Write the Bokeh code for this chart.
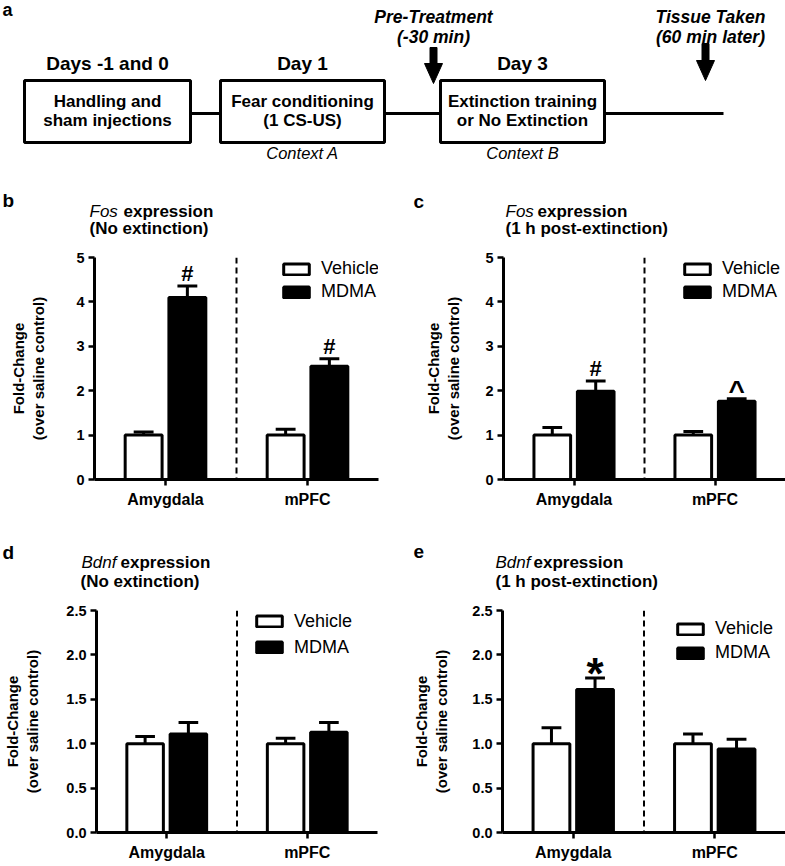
from bokeh.plotting import figure
from bokeh.models import (Range1d, FactorRange, ColumnDataSource, Legend, LegendItem, Span,
                          FixedTicker, NumeralTickFormatter, CDSView, IndexFilter)
from bokeh.transform import dodge
from bokeh.layouts import column, row
from bokeh.embed import file_html
from bokeh.resources import INLINE
from bokeh.core.properties import value

# ---------------- data ----------------
stage_days = ["Days -1 and 0", "Day 1", "Day 3"]
stage_line1 = ["Handling and", "Fear conditioning", "Extinction training"]
stage_line2 = ["sham injections", "(1 CS-US)", "or No Extinction"]
stage_context = ["", "Context A", "Context B"]
event_line1 = ["Pre-Treatment", "Tissue Taken"]
event_line2 = ["(-30 min)", "(60 min later)"]

regions = ["Amygdala", "mPFC"]
groups = ["Vehicle", "MDMA"]

panel_letters = ["b", "c", "d", "e"]
panel_genes = ["Fos", "Fos", "Bdnf", "Bdnf"]
panel_conditions = ["(No extinction)", "(1 h post-extinction)", "(No extinction)", "(1 h post-extinction)"]

fos_noext_vehicle = [1.00, 1.00]
fos_noext_vehicle_sem = [0.07, 0.13]
fos_noext_mdma = [4.10, 2.55]
fos_noext_mdma_sem = [0.26, 0.17]
fos_noext_marks = ["#", "#"]

fos_postext_vehicle = [1.00, 1.00]
fos_postext_vehicle_sem = [0.17, 0.08]
fos_postext_mdma = [1.99, 1.76]
fos_postext_mdma_sem = [0.23, 0.06]
fos_postext_marks = ["#", "^"]

bdnf_noext_vehicle = [1.00, 1.00]
bdnf_noext_vehicle_sem = [0.08, 0.06]
bdnf_noext_mdma = [1.11, 1.13]
bdnf_noext_mdma_sem = [0.13, 0.11]
bdnf_noext_marks = ["", ""]

bdnf_postext_vehicle = [1.00, 1.00]
bdnf_postext_vehicle_sem = [0.18, 0.11]
bdnf_postext_mdma = [1.61, 0.94]
bdnf_postext_mdma_sem = [0.13, 0.11]
bdnf_postext_marks = ["*", ""]

fos_ticks = [0, 1, 2, 3, 4, 5]
bdnf_ticks = [0.0, 0.5, 1.0, 1.5, 2.0, 2.5]

y_title = "Fold-Change\n(over saline control)"

FONT = "Liberation Sans"
W = 785


def fs(v):
    return f"{v:.1f}px"


def mid(baseline, size):
    """Vertical centre of the em box for a text whose baseline is at `baseline` (y down)."""
    return baseline - 0.35 * size


def strip(height, y0):
    """Axis-free figure whose data units are page pixels (y downwards)."""
    f = figure(width=W, height=height, x_range=Range1d(0, W), y_range=Range1d(y0 + height, y0),
               output_backend="svg", toolbar_location=None, title=None, min_border=0,
               x_axis_type=None, y_axis_type=None)
    f.outline_line_color = None
    return f


def put(f, x, baseline, text, size, style, align="left"):
    f.text(x=[x], y=[mid(baseline, size)], text=[text], text_font=value(FONT),
           text_font_size=value(fs(size)), text_font_style=style, text_align=align,
           text_baseline="middle", text_color="black")


def panel_heading(f, idx, letter_xy, gene_xy, expr_x, sub_xy):
    put(f, letter_xy[0], letter_xy[1], panel_letters[idx], 19, "bold")
    put(f, gene_xy[0], gene_xy[1], panel_genes[idx], 17, "italic")
    put(f, expr_x, gene_xy[1], "expression", 17, "bold")
    put(f, sub_xy[0], sub_xy[1], panel_conditions[idx], 17, "bold")


# ---------------- panel a: timeline (+ headings of b and c) ----------------
top = strip(245, 0)

box_l = [24, 220, 440]
box_r = [190, 384, 604]
box_c = [(a + b) / 2 for a, b in zip(box_l, box_r)]
LINE_Y = 113
top.segment(x0=[box_r[0], box_r[1], box_r[2]], y0=[LINE_Y] * 3,
            x1=[box_l[1], box_l[2], 723], y1=[LINE_Y] * 3,
            line_color="black", line_width=3)
top.quad(left=box_l, right=box_r, top=[80] * 3, bottom=[142] * 3,
         fill_color="white", line_color="black", line_width=3)

tkw = dict(text_font=value(FONT), text_align="center", text_baseline="middle", text_color="black")
top.text(x=box_c, y=[62.5] * 3, text=stage_days, text_font_size=value(fs(19)), text_font_style="bold", **tkw)
top.text(x=box_c, y=[101] * 3, text=stage_line1, text_font_size=value(fs(17)), text_font_style="bold", **tkw)
top.text(x=box_c, y=[119.5] * 3, text=stage_line2, text_font_size=value(fs(17)), text_font_style="bold", **tkw)
top.text(x=box_c, y=[152.5] * 3, text=stage_context, text_font_size=value(fs(16.5)), text_font_style="italic", **tkw)

ev_x = [433, 705]
ev_top = [47, 43]
ev_tip = [83, 80]
HEAD_L, HEAD_W, SHAFT_W = 20, 18, 7
xs, ys = [], []
for cx, t, tip in zip(ev_x, ev_top, ev_tip):
    hb = tip - HEAD_L
    xs.append([cx - SHAFT_W / 2, cx + SHAFT_W / 2, cx + SHAFT_W / 2, cx + HEAD_W / 2, cx,
               cx - HEAD_W / 2, cx - SHAFT_W / 2])
    ys.append([t, t, hb, hb, tip, hb, hb])
top.patches(xs=xs, ys=ys, fill_color="black", line_color="black", line_width=1)
ev_tx = [ev_x[0], ev_x[1] + 5]
top.text(x=ev_tx, y=[16.5, 16.5], text=event_line1, text_font_size=value(fs(17.5)),
         text_font_style="bold italic", **tkw)
top.text(x=ev_tx, y=[36.5, 36.5], text=event_line2, text_font_size=value(fs(17.5)),
         text_font_style="bold italic", **tkw)
put(top, 2, 16, "a", 18, "bold")

panel_heading(top, 0, (2, 207), (89, 216.5), 123, (89, 234))
panel_heading(top, 1, (413, 208), (505, 216.5), 537, (505, 234))

mid_strip = strip(90, 510)
panel_heading(mid_strip, 2, (2, 559), (81, 568), 120, (80, 586.5))
panel_heading(mid_strip, 3, (413, 558), (495, 568), 533, (495, 586.5))

# ---------------- bar panels ----------------
MARK_STYLE = {"#": (22, -12), "^": (28, -8), "*": (44, -4)}
OFF, BW, CAP = 0.154, 0.26, 0.07
LPAD = 3


def bar_panel(veh, veh_sem, mdma, mdma_sem, marks, ticks, fmt, L):
    fx, fy, fw, fh = L["fig"]
    fl, fr, ft, fb = L["frame"]
    p = figure(width=fw, height=fh, x_range=FactorRange(factors=regions),
               y_range=Range1d(0, ticks[-1]), output_backend="svg", toolbar_location=None,
               title=None, min_border_left=int(round(fl - fx)), min_border_right=int(round(fx + fw - fr)),
               min_border_top=int(round(ft - fy)), min_border_bottom=int(round(fy + fh - fb)))
    p.outline_line_color = None
    p.xgrid.visible = False
    p.ygrid.visible = False

    for ax in (p.xaxis[0], p.yaxis[0]):
        ax.axis_line_width = 3
        ax.axis_line_color = "black"
        ax.major_tick_line_width = 2.5
        ax.major_tick_line_color = "black"
        ax.major_tick_in = 0
        ax.major_tick_out = 6
        ax.minor_tick_line_color = None
        ax.major_label_text_font = FONT
        ax.major_label_text_font_style = "bold"
        ax.major_label_text_color = "black"
    p.yaxis.ticker = FixedTicker(ticks=ticks)
    p.yaxis.formatter = NumeralTickFormatter(format=fmt)
    p.yaxis.major_label_text_font_size = fs(14.5)
    p.yaxis.major_label_standoff = 4
    p.yaxis.axis_label = y_title
    p.yaxis.axis_label_text_font = FONT
    p.yaxis.axis_label_text_font_size = fs(15)
    p.yaxis.axis_label_text_font_style = "bold"
    p.yaxis.axis_label_text_color = "black"
    p.yaxis.axis_label_standoff = int(round(L["standoff"]))
    p.xaxis.major_label_text_font_size = fs(16)
    p.xaxis.major_label_standoff = 5

    src = ColumnDataSource(dict(
        region=regions, veh=veh, mdma=mdma,
        veh_hi=[v + e for v, e in zip(veh, veh_sem)],
        mdma_hi=[v + e for v, e in zip(mdma, mdma_sem)],
        marks=marks,
    ))

    rends = []
    for off, topf, hif, color in [(-OFF, "veh", "veh_hi", "white"), (OFF, "mdma", "mdma_hi", "black")]:
        xc = dodge("region", off, range=p.x_range)
        p.segment(x0=xc, y0=topf, x1=xc, y1=hif, source=src, line_color="black", line_width=3)
        p.segment(x0=dodge("region", off - CAP, range=p.x_range), y0=hif,
                  x1=dodge("region", off + CAP, range=p.x_range), y1=hif,
                  source=src, line_color="black", line_width=3)
        r = p.vbar(x=xc, top=topf, bottom=0, width=BW, source=src, fill_color=color,
                   line_color="black", line_width=3)
        rends.append(r)

    p.add_layout(Span(location=1, dimension="height", line_color="black",
                      line_dash="6 4", line_width=2))

    for i, m in enumerate(marks):
        if not m:
            continue
        size, dy = MARK_STYLE[m]
        p.text(x=dodge("region", OFF, range=p.x_range), y="mdma_hi", text="marks", source=src,
               view=CDSView(filter=IndexFilter([i])),
               text_font=value(FONT), text_font_style="bold", text_font_size=value(fs(size)),
               y_offset=value(dy), text_align="center", text_baseline="middle", text_color="black")

    lx, lb = L["legend"]
    legend = Legend(items=[LegendItem(label=groups[0], renderers=[rends[0]]),
                           LegendItem(label=groups[1], renderers=[rends[1]])],
                    location=(lx - fl - LPAD, fb - lb - LPAD), orientation="vertical",
                    padding=LPAD, margin=0, spacing=L["spacing"],
                    glyph_width=32, glyph_height=14, label_standoff=9, label_width=66,
                    border_line_color=None, background_fill_alpha=0,
                    label_text_font=FONT, label_text_font_size=fs(18), label_text_color="black")
    p.add_layout(legend)
    return p


pb = bar_panel(fos_noext_vehicle, fos_noext_vehicle_sem, fos_noext_mdma, fos_noext_mdma_sem,
               fos_noext_marks, fos_ticks, "0",
               dict(fig=(0, 245, 392, 265), frame=(94, 378, 257, 479.6), standoff=26,
                    legend=(283, 300), spacing=2))
pc = bar_panel(fos_postext_vehicle, fos_postext_vehicle_sem, fos_postext_mdma, fos_postext_mdma_sem,
               fos_postext_marks, fos_ticks, "0",
               dict(fig=(392, 245, 393, 265), frame=(503, 785, 257, 479.6), standoff=20,
                    legend=(684, 300), spacing=2))
pd_ = bar_panel(bdnf_noext_vehicle, bdnf_noext_vehicle_sem, bdnf_noext_mdma, bdnf_noext_mdma_sem,
                bdnf_noext_marks, bdnf_ticks, "0.0",
                dict(fig=(0, 600, 392, 265), frame=(93, 377, 610, 832.3), standoff=22,
                     legend=(253, 655), spacing=5))
pe = bar_panel(bdnf_postext_vehicle, bdnf_postext_vehicle_sem, bdnf_postext_mdma, bdnf_postext_mdma_sem,
               bdnf_postext_marks, bdnf_ticks, "0.0",
               dict(fig=(392, 600, 393, 265), frame=(502, 785, 609.3, 832), standoff=19,
                    legend=(677, 660), spacing=3))

layout = column(top, row(pb, pc), mid_strip, row(pd_, pe))
open("out.html", "w").write(file_html(layout, INLINE))
